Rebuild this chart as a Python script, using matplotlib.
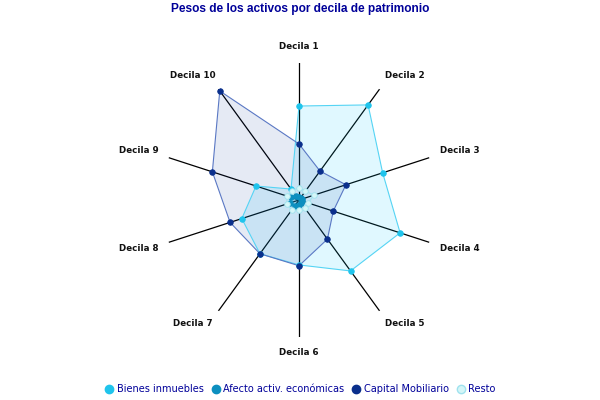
import numpy as np
import matplotlib
matplotlib.use('Agg')
import matplotlib.pyplot as plt
from matplotlib.lines import Line2D

# Datos (peso relativo, escala 0-100 del radio)
deciles = ['Decila 1', 'Decila 2', 'Decila 3', 'Decila 4', 'Decila 5',
           'Decila 6', 'Decila 7', 'Decila 8', 'Decila 9', 'Decila 10']
bienes_inmuebles = [68.6, 85.8, 64.2, 77.6, 64.0, 47.4, 48.5, 43.9, 33.0, 9.9]
afecto_activ = [2.5, 2.0, 2.0, 2.0, 2.5, 3.5, 5.0, 7.0, 6.0, 3.5]
capital_mobiliario = [40.9, 26.1, 36.0, 26.3, 35.3, 48.0, 48.5, 52.9, 66.5, 98.4]
resto = [9.0, 8.0, 11.5, 7.0, 7.0, 7.5, 9.0, 9.5, 9.0, 8.5]

series = [
    ('Bienes inmuebles', bienes_inmuebles, '#1fc4ec', '#55d4f4', '#00ccff', 0.12),
    ('Capital Mobiliario', capital_mobiliario, '#0a2f8c', '#5a78c4', '#003399', 0.10),
    ('Afecto activ. económicas', afecto_activ, '#0c8fbf', '#2aa0cc', '#0099cc', 0.25),
    ('Resto', resto, '#d4f6f8', '#9fe2ee', '#ffffff', 0.0),
]
orden_leyenda = ['Bienes inmuebles', 'Afecto activ. económicas', 'Capital Mobiliario', 'Resto']

R_MAX = 100
azul = '#000099'

fig = plt.figure(figsize=(6, 4), dpi=100)
cx, cy, rad = 299 / 600, 1 - 200 / 400, 137
ax = fig.add_axes([cx - rad / 600, cy - rad / 400, 2 * rad / 600, 2 * rad / 400], projection='polar')
ax.set_theta_zero_location('N')
ax.set_theta_direction(-1)

n = len(deciles)
angulos = np.arange(n) * 2 * np.pi / n
ang_cerrado = np.concatenate([angulos, angulos[:1]])

for nombre, vals, mcol, lcol, fcol, alpha in series:
    v = np.concatenate([vals, vals[:1]])
    if alpha > 0:
        ax.fill(ang_cerrado, v, color=fcol, alpha=alpha, lw=0, zorder=2)
    ax.plot(ang_cerrado, v, color=lcol, lw=0.8, zorder=3)
    ax.plot(angulos, vals, 'o', ms=4, color=mcol, mec=lcol if nombre == 'Resto' else mcol,
            mew=0.6, zorder=5)

ax.set_ylim(0, R_MAX)
ax.set_xticks(angulos)
ax.set_xticklabels([])
ax.set_yticks([])
ax.xaxis.grid(True, color='black', lw=0.9)
ax.yaxis.grid(False)
ax.spines['polar'].set_visible(False)
ax.set_facecolor('none')

# etiquetas de las decilas: radio fijo y desplazamiento hacia fuera
for ang, etiqueta in zip(angulos, deciles):
    dx = 18 * np.sign(np.round(np.sin(ang), 6))
    dy = 3.5 if np.cos(ang) > 0 else -2
    ax.annotate(etiqueta, xy=(ang, R_MAX * 1.095), xytext=(dx, dy), textcoords='offset pixels',
                ha='center', va='center', fontsize=6.3, fontweight='bold',
                color='#111111', family='DejaVu Sans', annotation_clip=False)

fig.suptitle('Pesos de los activos por decila de patrimonio', y=0.993,
             fontsize=8.6, fontweight='bold', color=azul, family='Liberation Sans')

handles = []
info = {s[0]: s for s in series}
for nombre in orden_leyenda:
    _, _, mcol, lcol, _, _ = info[nombre]
    handles.append(Line2D([], [], marker='o', ls='none', ms=6, color=mcol,
                          mec=lcol if nombre == 'Resto' else mcol, label=nombre))
fig.legend(handles=handles, loc='center', bbox_to_anchor=(0.5, 0.027), ncol=4,
           frameon=False, fontsize=7, labelcolor=azul, handletextpad=0.3,
           columnspacing=0.7, handlelength=1.0)

fig.savefig('out.png', dpi=100)
